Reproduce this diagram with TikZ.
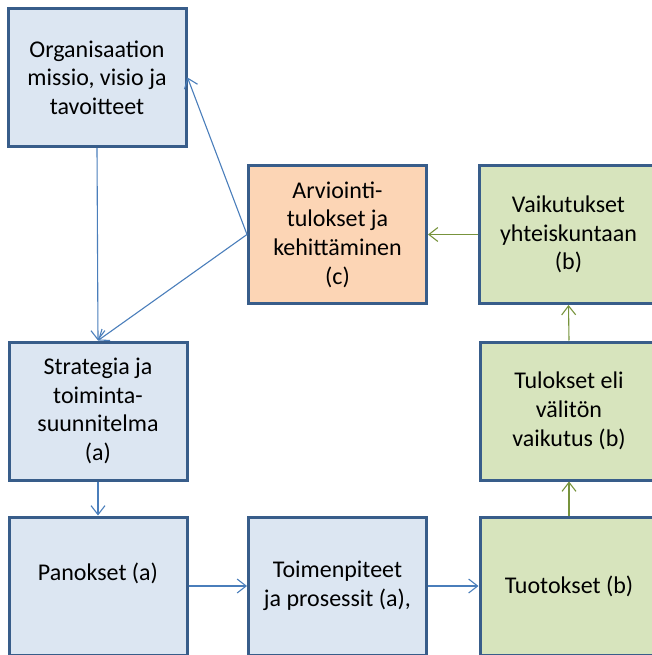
\documentclass[tikz,border=0pt]{standalone}
\usepackage{fontspec}
\setmainfont{Carlito}
\usetikzlibrary{arrows.meta}

\definecolor{boxline}{HTML}{385D8A}
\definecolor{bluefill}{HTML}{DCE6F2}
\definecolor{orangefill}{HTML}{FCD5B5}
\definecolor{greenfill}{HTML}{D7E4BD}
\definecolor{bluearrow}{HTML}{4A7EBB}
\definecolor{greenarrow}{HTML}{77933C}

\begin{document}
\begin{tikzpicture}[x=1pt,y=-1pt,
  box/.style={draw=boxline, line width=3pt, minimum width=178pt,
    minimum height=138pt, inner sep=0pt, align=center,
    font=\fontsize{24}{28.7}\selectfont},
  bluebox/.style={box, fill=bluefill},
  orangebox/.style={box, fill=orangefill},
  greenbox/.style={box, fill=greenfill},
  barrow/.style={draw=bluearrow, line width=1.1pt,
    -{Straight Barb[length=9pt,width=14pt]}},
  garrow/.style={draw=greenarrow, line width=1.1pt,
    -{Straight Barb[length=9pt,width=14pt]}}]

  % Page frame
  \useasboundingbox (0,0) rectangle (652,655);
  \clip (0,0) rectangle (652,655);

  % Box centres
  \coordinate (C1) at (97,77.5);
  \coordinate (C2) at (337.5,234.5);
  \coordinate (C3) at (568.5,234.5);
  \coordinate (C4) at (98,411);
  \coordinate (C5) at (569,411);
  \coordinate (C6) at (98,586);
  \coordinate (C7) at (337.5,586);
  \coordinate (C8) at (569,586);

  % Boxes
  \node (org) at (C1) [bluebox] {Organisaation\\missio, visio ja\\tavoitteet};
  \node (arv) at (C2) [orangebox] {Arviointi-\\tulokset ja\\kehitt\"aminen\\(c)};
  \node (vai) at (C3) [greenbox] {Vaikutukset\\yhteiskuntaan\\(b)};
  \node (str) at (C4) [bluebox] {Strategia ja\\toiminta-\\suunnitelma\\(a)};
  \node (tul) at (C5) [greenbox] {Tulokset eli\\v\"alit\"on\\vaikutus (b)};
  \node (pan) at (C6) [bluebox] {Panokset (a)\\\mbox{}};
  \node (toi) at (C7) [bluebox] {Toimenpiteet\\ja prosessit (a),};
  \node (tuo) at (C8) [greenbox] {Tuotokset (b)};

  % Arrows
  \draw[barrow] (org.south) -- (str.north);
  \draw[barrow] (arv.west) -- (str.north);
  \draw[barrow] (arv.west) -- (org.east);
  \draw[barrow] (str.south) -- (pan.north);
  \draw[barrow] (pan.east) -- (toi.west);
  \draw[barrow] (toi.east) -- (tuo.west);
  \draw[garrow] (tuo.north) -- (tul.south);
  \draw[garrow] (tul.north) -- (vai.south);
  \draw[garrow] (vai.west) -- (arv.east);
\end{tikzpicture}
\end{document}
